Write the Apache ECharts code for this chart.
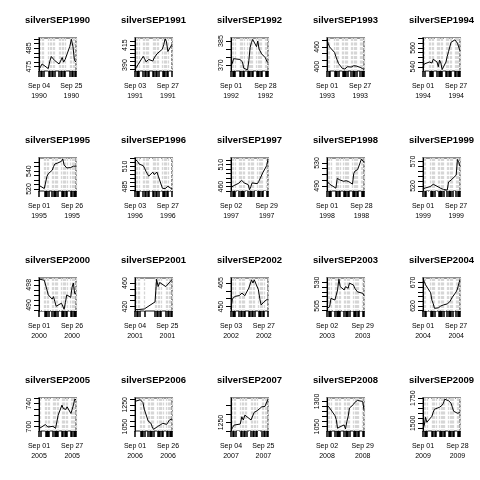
<!DOCTYPE html>
<html>
<head>
<meta charset="utf-8">
<script src="https://cdn.jsdelivr.net/npm/echarts@6/dist/echarts.min.js"></script>
<style>
  html, body { margin: 0; padding: 0; background: #fff; }
  #chart { width: 480px; height: 480px; }
</style>
</head>
<body>
<div id="chart"></div>
<script>
// September trading days and prices, one pair of arrays per year
const d1990 = [4, 5, 6, 7, 10, 11, 12, 13, 14, 17, 18, 19, 20, 21, 24, 25, 26, 27, 28];
const p1990 = [473.5, 475, 476.5, 475.5, 474, 478, 480.5, 479.5, 478.5, 476.5, 478, 480, 477.5, 479, 486, 489.8, 486, 478.5, 477.5];
const d1991 = [3, 4, 5, 6, 9, 10, 11, 12, 13, 16, 17, 18, 19, 20, 23, 24, 25, 26, 27, 30];
const p1991 = [384, 387, 390, 392, 401, 398, 394, 396, 397, 395, 399, 401, 404, 405, 410, 416, 423, 419, 407, 416];
const d1992 = [1, 2, 3, 4, 8, 9, 10, 11, 14, 15, 16, 17, 18, 21, 22, 23, 24, 25, 28, 29, 30];
const p1992 = [369.5, 371, 374, 375, 373.5, 373, 372, 368, 367, 373, 381, 384, 386, 381.5, 385, 380, 379, 377, 374.5, 372.5, 371.5];
const d1993 = [1, 2, 3, 7, 8, 9, 10, 13, 14, 15, 16, 17, 20, 21, 22, 23, 24, 27, 28, 29, 30];
const p1993 = [482, 470, 460, 443, 430, 420, 410, 395, 391, 393, 398, 400, 399, 402, 403, 404, 402, 398, 397, 394, 392];
const d1994 = [1, 2, 6, 7, 8, 9, 12, 13, 14, 15, 16, 19, 20, 21, 22, 23, 26, 27, 28, 29, 30];
const p1994 = [540, 543, 545, 546, 544, 548, 545, 540, 547, 544, 537, 545, 551, 556, 554, 566, 568.5, 568, 565, 561, 557];
const d1995 = [1, 5, 6, 7, 8, 11, 12, 13, 14, 15, 18, 19, 20, 21, 22, 25, 26, 27, 28, 29];
const p1995 = [524, 520.5, 519, 534, 537, 541, 545, 548, 547, 549, 551, 553.5, 547, 549, 543.5, 544, 543.5, 545.5, 543.5, 545.5];
const d1996 = [3, 4, 5, 6, 9, 10, 11, 12, 13, 16, 17, 18, 19, 20, 23, 24, 25, 26, 27, 30];
const p1996 = [519, 518.5, 516, 513, 511, 508, 504, 501, 498, 503, 500, 501, 503, 498, 483, 482, 482.5, 484, 485.5, 482];
const d1997 = [2, 3, 4, 5, 8, 9, 10, 11, 12, 15, 16, 17, 18, 19, 22, 23, 24, 25, 26, 29, 30];
const p1997 = [458, 460, 462, 464.6, 468, 470, 474.5, 471, 468.5, 464.6, 453, 460, 468.5, 467, 466.7, 472, 478, 480, 491.5, 508, 523];
const d1998 = [1, 2, 3, 4, 8, 9, 10, 11, 14, 15, 16, 17, 18, 21, 22, 23, 24, 25, 28, 29, 30];
const p1998 = [498, 495, 493, 492, 486, 503, 501, 500.5, 498, 497, 499, 499, 497.5, 493, 512, 516, 518, 518.4, 537, 535, 531];
const d1999 = [1, 2, 3, 7, 8, 9, 10, 13, 14, 15, 16, 17, 20, 21, 22, 23, 24, 27, 28, 29, 30];
const p1999 = [514, 515, 516, 519, 521, 523.5, 521, 518, 516, 515, 514, 513, 511.6, 528, 530, 532, 533.6, 542, 574, 568, 560];
const d2000 = [1, 5, 6, 7, 8, 11, 12, 13, 14, 15, 18, 19, 20, 21, 22, 25, 26, 27, 28, 29];
const p2000 = [500.3, 499.8, 499.3, 496, 494, 492.3, 493.3, 491.3, 489.5, 490.2, 490.7, 491, 488.3, 491, 494, 493, 497, 498.7, 494.5, 494.7];
const d2001 = [4, 5, 6, 7, 10, 17, 18, 19, 20, 21, 24, 25, 26, 27, 28];
const p2001 = [415, 415.5, 415, 415.5, 416, 428, 466.5, 454, 461, 458, 454, 456, 460, 463, 466];
const d2002 = [3, 4, 5, 6, 9, 10, 11, 12, 13, 16, 17, 18, 19, 20, 23, 24, 25, 26, 27, 30];
const p2002 = [448.5, 455, 456, 456.5, 457, 457.5, 458.6, 458.6, 456.9, 461.8, 461.8, 467, 465, 467, 460.7, 455, 451, 452, 453, 455];
const d2003 = [2, 3, 4, 5, 8, 9, 10, 11, 12, 15, 16, 17, 18, 19, 22, 23, 24, 25, 26, 29, 30];
const p2003 = [502, 503, 504.2, 513, 511.3, 509.5, 522, 533.4, 525.5, 522, 525.5, 524, 523.8, 529.2, 527.3, 523.8, 525, 520, 519, 518.4, 516];
const d2004 = [1, 2, 3, 7, 8, 9, 10, 13, 14, 15, 16, 17, 20, 21, 22, 23, 24, 27, 28, 29, 30];
const p2004 = [678, 672, 665, 648, 632, 625, 615, 616, 618, 620, 623.7, 622.2, 624.4, 623, 629, 632, 638.7, 650, 656, 667, 676];
const d2005 = [1, 2, 6, 7, 8, 9, 12, 13, 14, 15, 16, 19, 20, 21, 22, 23, 26, 27, 28, 29, 30];
const p2005 = [696.5, 698, 703.6, 701, 699.4, 700, 700.6, 698, 697, 696.5, 720, 737.6, 731.8, 730, 730, 734.7, 723, 730, 738, 748, 747];
const d2006 = [1, 5, 6, 7, 8, 11, 12, 13, 14, 15, 18, 19, 20, 21, 22, 25, 26, 27, 28, 29];
const p2006 = [1281, 1296, 1302, 1270, 1210, 1100, 1090, 1082, 1050, 1025, 1050, 1060, 1065, 1072, 1080, 1071, 1090, 1110, 1126, 1120];
const d2007 = [4, 5, 6, 7, 10, 11, 12, 13, 14, 17, 18, 19, 20, 21, 24, 25, 26, 27, 28];
const p2007 = [1203, 1220, 1235, 1238, 1241, 1284, 1265, 1294, 1285, 1265, 1275, 1310, 1318, 1320, 1343, 1343, 1345, 1353, 1388];
const d2008 = [2, 3, 4, 5, 8, 9, 10, 11, 12, 15, 16, 17, 18, 19, 22, 23, 24, 25, 26, 29, 30];
const p2008 = [1265, 1250, 1235, 1224, 1160, 1120, 1034, 1040, 1050, 1067, 1027, 1100, 1150, 1234, 1270, 1290, 1300, 1310, 1317, 1300, 1217];
const d2009 = [1, 2, 3, 4, 8, 9, 10, 11, 14, 15, 16, 17, 18, 21, 22, 23, 24, 25, 28, 29, 30];
const p2009 = [1450, 1480, 1560, 1510, 1570, 1610, 1640, 1630, 1660, 1650, 1680, 1700, 1740, 1725, 1710, 1700, 1660, 1620, 1600, 1605, 1606];

const years = [1990, 1991, 1992, 1993, 1994, 1995, 1996, 1997, 1998, 1999,
               2000, 2001, 2002, 2003, 2004, 2005, 2006, 2007, 2008, 2009];
const days = [d1990, d1991, d1992, d1993, d1994, d1995, d1996, d1997, d1998, d1999,
              d2000, d2001, d2002, d2003, d2004, d2005, d2006, d2007, d2008, d2009];
const prices = [p1990, p1991, p1992, p1993, p1994, p1995, p1996, p1997, p1998, p1999,
                p2000, p2001, p2002, p2003, p2004, p2005, p2006, p2007, p2008, p2009];

// second date label on each x axis (day of September)
const xLabelDay = [25, 27, 28, 27, 27, 26, 27, 29, 28, 27, 26, 25, 27, 29, 27, 27, 26, 25, 29, 28];
// y tick labels that are shown, tick step and axis extent
const yLabels = [[475, 485], [390, 415], [370, 385], [400, 460], [540, 560],
                 [520, 540], [485, 510], [460, 510], [490, 530], [520, 570],
                 [490, 498], [420, 460], [450, 465], [505, 530], [620, 670],
                 [700, 740], [1050, 1250], [1250], [1050, 1300], [1500, 1750]];
const yStep = [2.5, 5, 5, 20, 5, 5, 5, 10, 10, 10, 2, 10, 5, 5, 10, 10, 50, 50, 50, 50];
const yMin = [472.7, 382.5, 366.3, 387, 535.5, 517.7, 479.6, 450, 481, 509.7,
              487.6, 412.6, 447.2, 499.6, 609.3, 692.4, 1010, 1200, 1007, 1423];
const yMax = [490.5, 424, 386.9, 487, 570.5, 554.7, 520.5, 525.4, 538.8, 577,
              500.7, 468.6, 468.2, 534.7, 679.4, 750, 1312, 1395, 1334, 1752];

const font = "'Liberation Sans', Arial, Helvetica, sans-serif";

function pad(n) {
  return n < 10 ? "0" + n : "" + n;
}

function stepTicks(lo, hi, step) {
  const out = [];
  for (let v = Math.ceil(lo / step) * step; v <= hi + 1e-9; v += step) {
    out.push(+v.toFixed(4));
  }
  return out;
}

const grids = [];
const xAxes = [];
const yAxes = [];
const series = [];
const graphics = [];

years.forEach((year, i) => {
  const col = i % 5;
  const row = Math.floor(i / 5);
  const left = col * 96 + 39;
  const top = row * 120 + 38;
  const dd = days[i];

  grids.push({
    left: left,
    top: top,
    width: 37,
    height: 33,
    show: true,
    backgroundColor: "#fff",
    borderColor: "#8f8f8f",
    borderWidth: 2,
  });

  xAxes.push({
    gridIndex: i,
    type: "value",
    min: dd[0],
    max: dd[dd.length - 1],
    axisLine: { show: false },
    axisTick: {
      show: true,
      length: 6,
      customValues: dd,
      lineStyle: { color: "#000", width: 1.5 },
    },
    axisLabel: {
      customValues: [dd[0], xLabelDay[i]],
      formatter: (v) => "Sep " + pad(v) + "\n" + year,
      fontSize: 7,
      lineHeight: 10,
      margin: 10,
      color: "#000",
      fontFamily: font,
    },
    splitLine: {
      show: true,
      lineStyle: { color: "#d6d6d6", width: 1.3, type: [3, 1.5] },
    },
  });

  yAxes.push({
    gridIndex: i,
    type: "value",
    min: yMin[i],
    max: yMax[i],
    axisLine: { show: true, lineStyle: { color: "#000", width: 1 } },
    axisTick: {
      show: true,
      length: 5,
      customValues: stepTicks(yMin[i], yMax[i], yStep[i]),
      lineStyle: { color: "#000" },
    },
    axisLabel: {
      customValues: yLabels[i],
      formatter: (v) => String(v),
      rotate: 90,
      margin: 6,
      fontSize: 7,
      color: "#000",
      fontFamily: font,
    },
    splitLine: {
      show: true,
      lineStyle: { color: "#ffffff", width: 1, type: [2, 1] },
    },
  });

  series.push({
    type: "line",
    xAxisIndex: i,
    yAxisIndex: i,
    data: dd.map((d, k) => [d, prices[i][k]]),
    showSymbol: false,
    symbol: "none",
    lineStyle: { color: "#000", width: 1 },
    animation: false,
  });

  graphics.push({
    type: "text",
    x: left + 18.5,
    y: row * 120 + 20,
    style: {
      text: "silverSEP" + year,
      align: "center",
      verticalAlign: "middle",
      fontSize: 9.5,
      fontWeight: "bold",
      fontFamily: font,
      fill: "#000",
    },
  });
});

const chart = echarts.init(document.getElementById("chart"), null, { renderer: "canvas" });
chart.setOption({
  animation: false,
  backgroundColor: "#fff",
  grid: grids,
  xAxis: xAxes,
  yAxis: yAxes,
  series: series,
  graphic: graphics,
});
</script>
</body>
</html>
